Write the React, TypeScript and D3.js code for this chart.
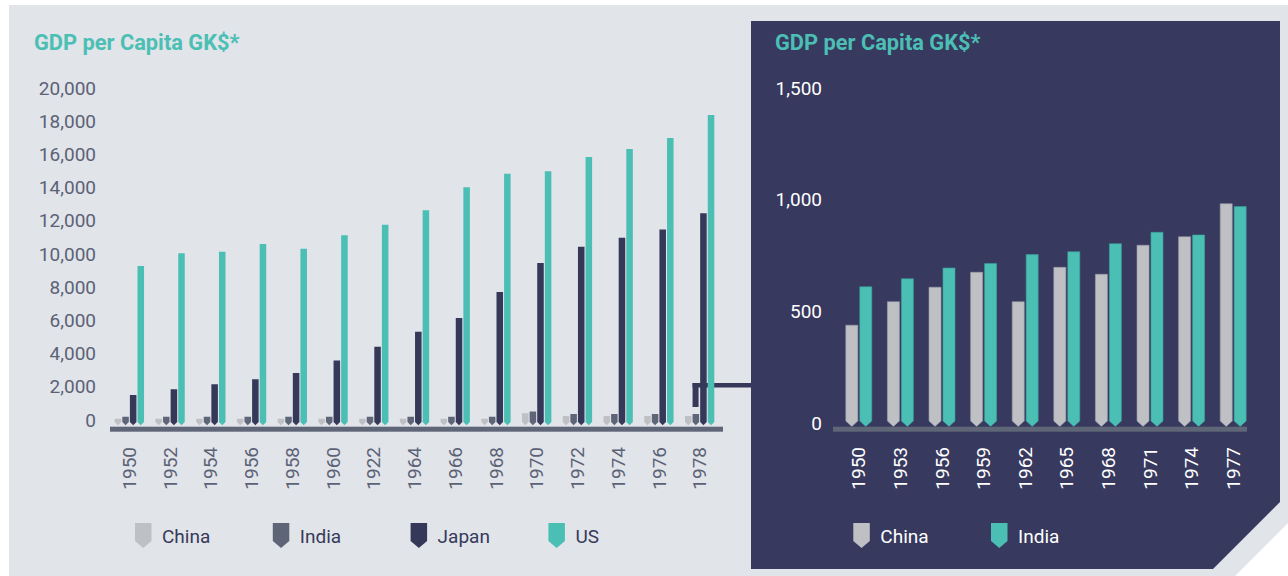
import React from "react";
import * as d3 from "d3";

// ---------- Data ----------
const yearsL = ["1950","1952","1954","1956","1958","1960","1922","1964","1966","1968","1970","1972","1974","1976","1978"];
const seriesL = ["China","India","Japan","US"];
const chinaL = [200,200,200,200,200,200,200,200,200,200,520,360,360,360,360];
const indiaL = [320,320,320,320,320,320,320,320,320,320,640,480,480,480,480];
const japanL = [1630,1970,2270,2570,2950,3700,4540,5440,6270,7830,9580,10560,11100,11590,12570];
const usL = [9400,10160,10260,10720,10440,11250,11890,12750,14140,14960,15100,15960,16450,17110,18490];
const ticksL = [0,2000,4000,6000,8000,10000,12000,14000,16000,18000,20000];

const yearsR = ["1950","1953","1956","1959","1962","1965","1968","1971","1974","1977"];
const seriesR = ["China","India"];
const chinaR = [429,534,599,666,534,688,657,787,825,973];
const indiaR = [601,637,685,705,745,758,794,845,833,960];
const ticksR = [0,500,1000,1500];

const title = "GDP per Capita GK$*";

// ---------- Styles ----------
const C = {
  bg: "#e1e4e9",
  panel: "#37395e",
  teal: "#4bbfb4",
  china: "#bfc0c3",
  india: "#5e6577",
  japan: "#363859",
  axis: "#5f6677",
  labelL: "#5b6276",
  legendL: "#363a5a",
};
const colorL: Record<string, string> = { China: C.china, India: C.india, Japan: C.japan, US: C.teal };
const colorR: Record<string, string> = { China: C.china, India: C.teal };
const FONT = "Roboto, 'Noto Sans', sans-serif";

function barPath(x: number, w: number, yTop: number, y0: number, tip: number) {
  const top = Math.min(yTop, y0);
  return `M${x},${top}H${x + w}V${y0}L${x + w / 2},${y0 + tip}L${x},${y0}Z`;
}

export default function App() {
  // Left scales
  const xL = d3.scaleBand<string>().domain(yearsL).range([109, 720]).paddingInner(0.28).paddingOuter(0.14);
  const xLi = d3.scaleBand<string>().domain(seriesL).range([0, xL.bandwidth()]).paddingInner(0.14);
  const yL = d3.scaleLinear().domain([0, 20000]).range([422, 90]);
  const valsL: Record<string, number[]> = { China: chinaL, India: indiaL, Japan: japanL, US: usL };

  // Right scales
  const xR = d3.scaleBand<string>().domain(yearsR).range([838, 1254]).paddingInner(0.375).paddingOuter(0.1875);
  const xRi = d3.scaleBand<string>().domain(seriesR).range([0, xR.bandwidth()]).paddingInner(0.14);
  const yR = d3.scaleLinear().domain([0, 1500]).range([421, 86]);
  const valsR: Record<string, number[]> = { China: chinaR, India: indiaR };

  const fmt = d3.format(",");

  const lastL = yearsL[yearsL.length - 1];
  const connX = (xL(lastL) as number) + (xLi("India") as number);

  const legendMarker = (x: number) => barPath(x, 16.5, 523, 541, 7);

  return (
    <svg width={1288} height={576} style={{ position: "absolute", left: 0, top: 0, background: "#fff" }}>
      {/* background */}
      <path d="M9,5H1288V523L1235,576H9Z" fill={C.bg} />
      <path d="M751,21H1280V502L1213,569H751Z" fill={C.panel} />

      {/* ---------- Left chart ---------- */}
      <text x={34} y={50} fill={C.teal} fontFamily={FONT} fontWeight={700} fontSize={21.8}>{title}</text>
      {ticksL.map((t) => (
        <text key={t} x={96} y={yL(t) - 2} dy="0.35em" textAnchor="end" fill={C.labelL} fontFamily={FONT} fontSize={19}>
          {fmt(t)}
        </text>
      ))}
      {/* connector */}
      <rect x={connX} y={383} width={6} height={24} fill={C.japan} />
      <rect x={connX} y={383} width={751 - connX} height={4.5} fill={C.japan} />
      {yearsL.map((yr, i) => (
        <g key={yr} transform={`translate(${xL(yr)},0)`}>
          {seriesL.map((s) => {
            const w = xLi.bandwidth();
            return (
              <path key={s} d={barPath(xLi(s) as number, w, yL(valsL[s][i]), yL(0), w / 2)} fill={colorL[s]} />
            );
          })}
        </g>
      ))}
      <rect x={110} y={426.7} width={613} height={5} fill={C.axis} />
      {yearsL.map((yr) => {
        const cx = (xL(yr) as number) + xL.bandwidth() / 2;
        return (
          <text key={yr} transform={`translate(${cx},447) rotate(-90)`} dy="0.35em" textAnchor="end"
            fill={C.labelL} fontFamily={FONT} fontSize={19}>{yr}</text>
        );
      })}
      {seriesL.map((s, i) => {
        const x = 135 + i * 137.8;
        return (
          <g key={s}>
            <path d={legendMarker(x)} fill={colorL[s]} />
            <text x={x + 27} y={543} fill={C.legendL} fontFamily={FONT} fontSize={19}>{s}</text>
          </g>
        );
      })}

      {/* ---------- Right chart ---------- */}
      <text x={775} y={50} fill={C.teal} fontFamily={FONT} fontWeight={700} fontSize={21.8}>{title}</text>
      {ticksR.map((t) => (
        <text key={t} x={822} y={yR(t) + 2} dy="0.35em" textAnchor="end" fill="#fff" fontFamily={FONT} fontSize={19}>
          {fmt(t)}
        </text>
      ))}
      {yearsR.map((yr, i) => (
        <g key={yr} transform={`translate(${xR(yr)},0)`}>
          {seriesR.map((s) => {
            const w = xRi.bandwidth();
            return (
              <path key={s} d={barPath(xRi(s) as number, w, yR(valsR[s][i]), yR(0), w * 0.45)}
                fill={colorR[s]} stroke={s === "China" ? "#9a9cab" : "#3a9f98"} strokeWidth={0.6} />
            );
          })}
        </g>
      ))}
      <rect x={833} y={426.7} width={414} height={5} fill={C.axis} />
      {yearsR.map((yr) => {
        const cx = (xR(yr) as number) + xR.bandwidth() / 2;
        return (
          <text key={yr} transform={`translate(${cx},447) rotate(-90)`} dy="0.35em" textAnchor="end"
            fill="#fff" fontFamily={FONT} fontSize={19}>{yr}</text>
        );
      })}
      {seriesR.map((s, i) => {
        const x = 853.3 + i * 137.7;
        return (
          <g key={s}>
            <path d={legendMarker(x)} fill={colorR[s]} />
            <text x={x + 27} y={543} fill="#fff" fontFamily={FONT} fontSize={19}>{s}</text>
          </g>
        );
      })}
    </svg>
  );
}
